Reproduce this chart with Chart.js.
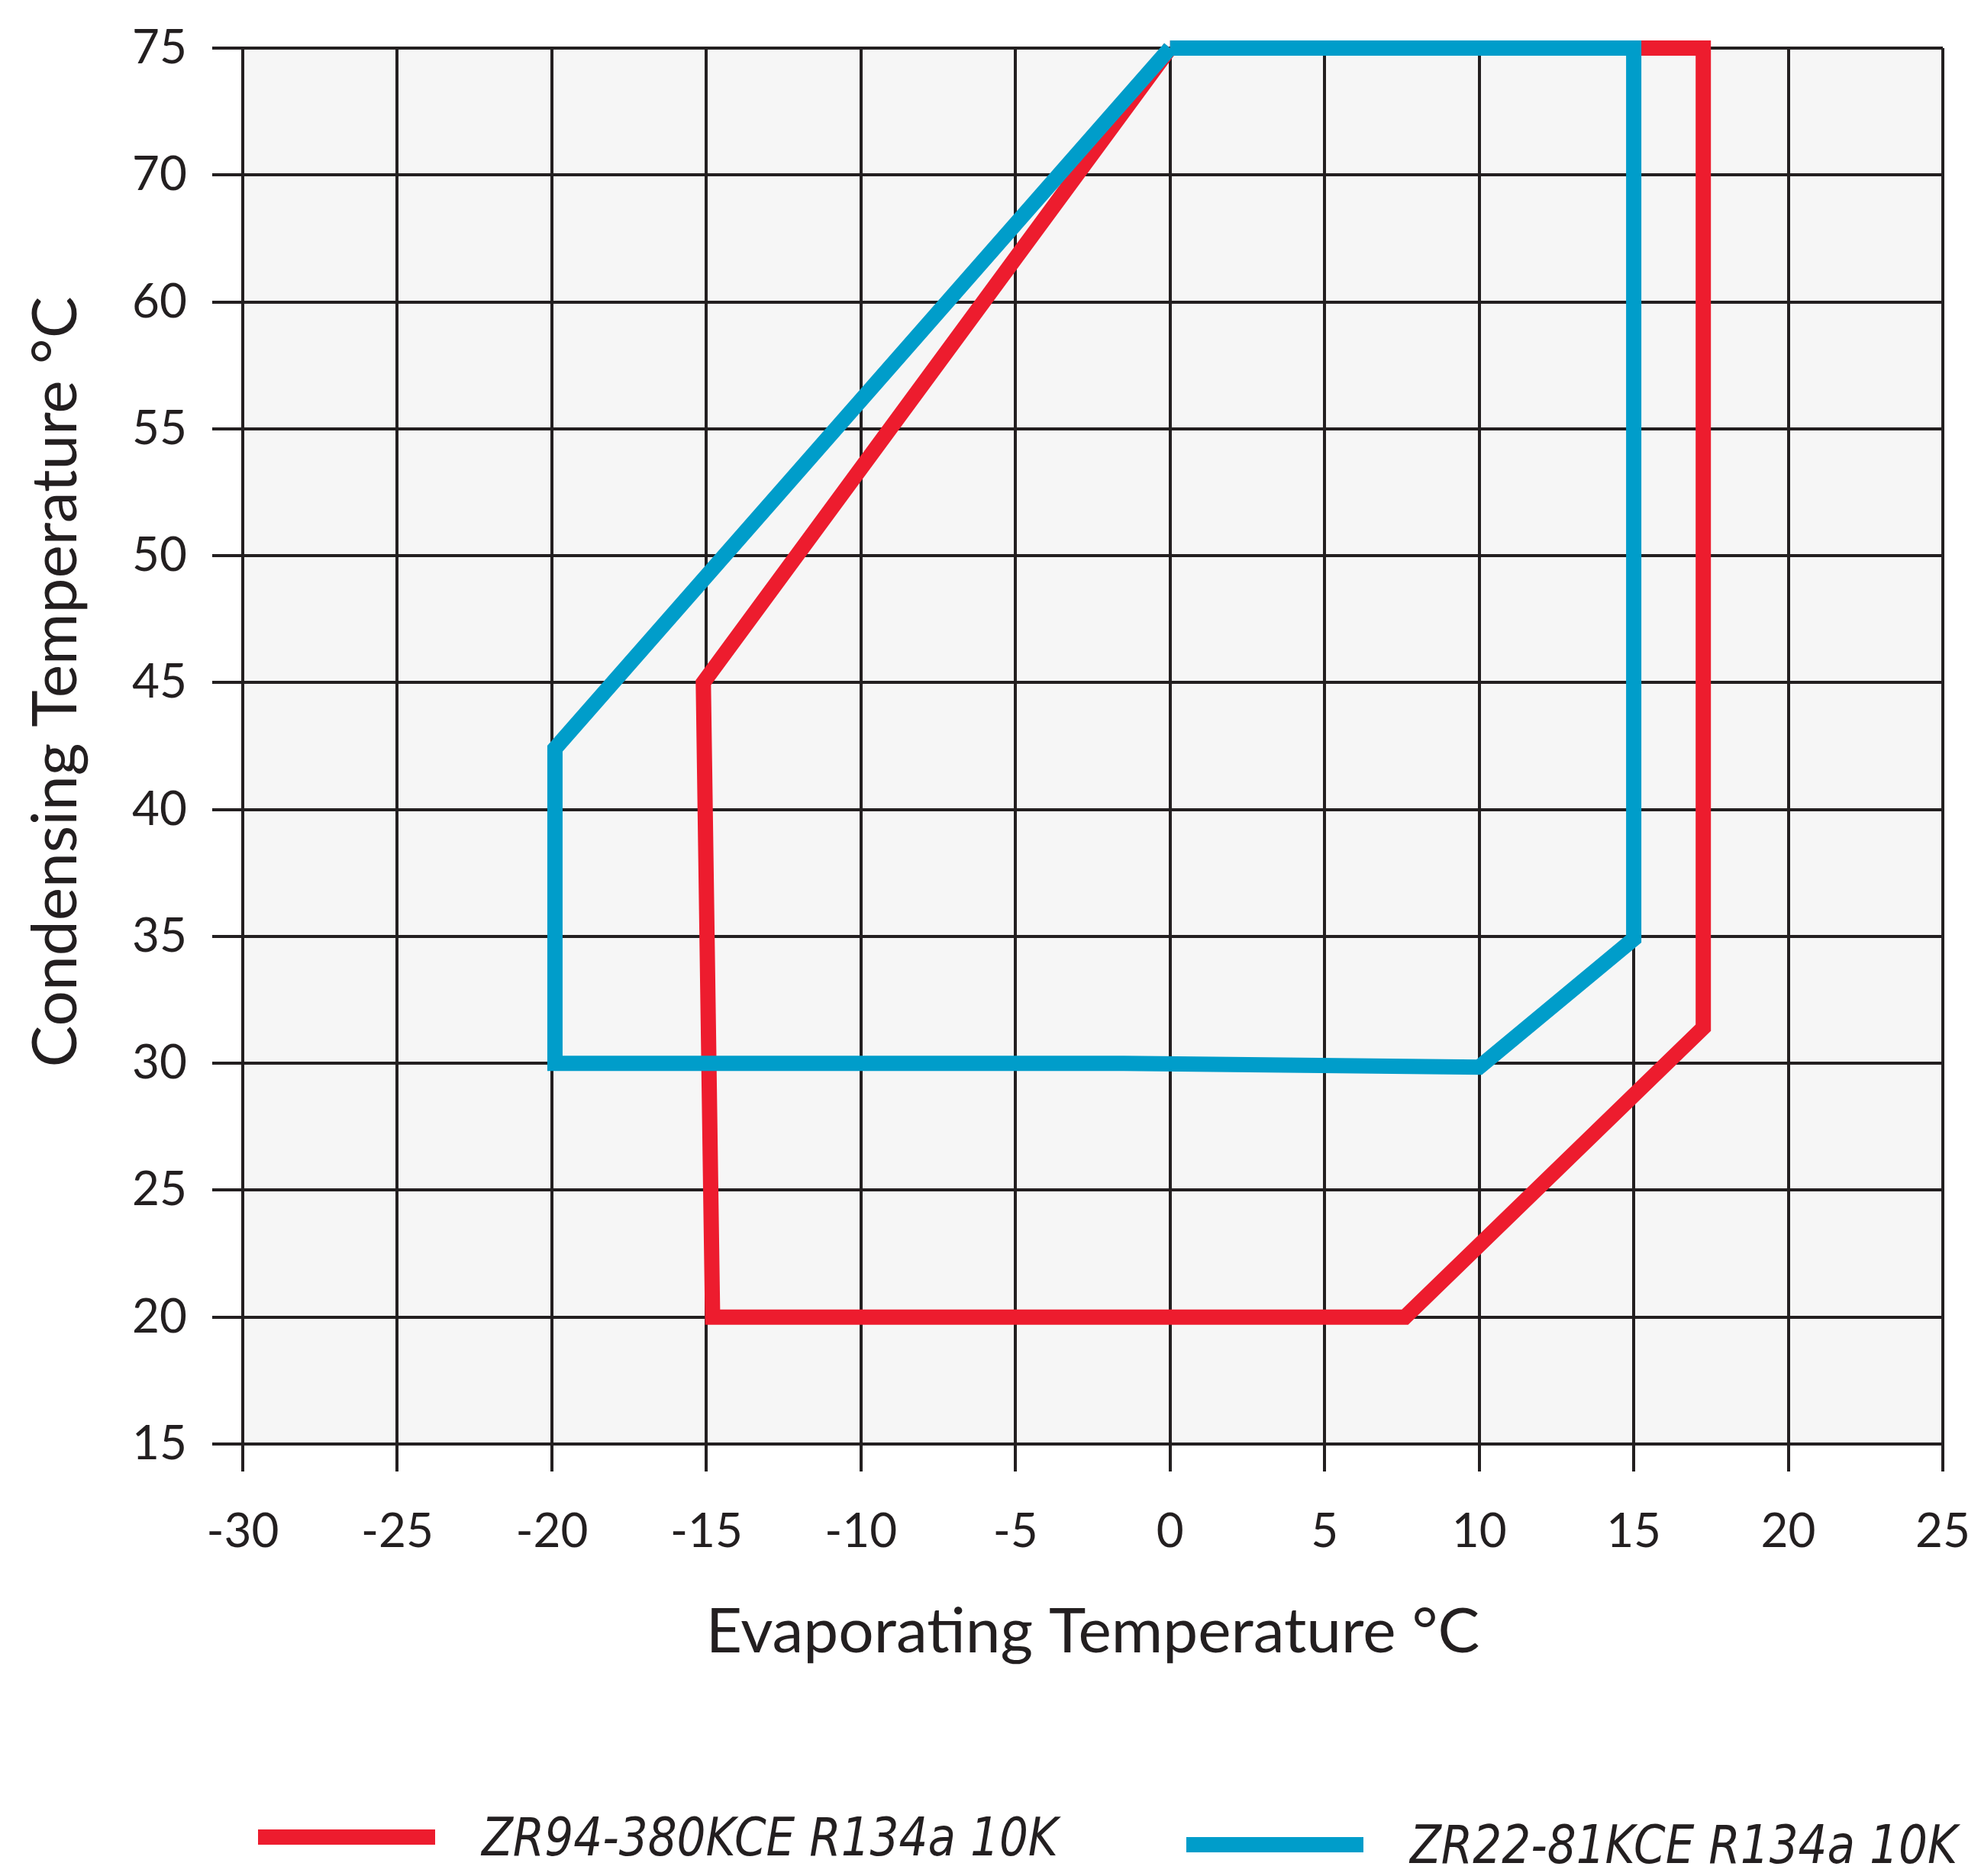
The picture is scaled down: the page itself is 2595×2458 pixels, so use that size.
<!DOCTYPE html>
<html lang="en">
<head>
    <meta charset="UTF-8">
    <title>Operating Envelope</title>
    <style>
    body{
        margin: 0;
        background-color: #fff;
        overflow: hidden;
    }
    .chartBox{
        position: relative;
        width: 2595px;
        height: 2458px;
    }
    .item{
        position: absolute;
        display: flex;
        align-items: center;
        white-space: nowrap;
        font-family: 'DejaVu Sans Condensed', 'DejaVu Sans', sans-serif;
        font-stretch: condensed;
        font-style: italic;
        font-size: 70px;
        line-height: 70px;
        color: #231f20;
    }
    .swatch{
        flex: none;
        width: 232px;
        height: 20px;
        margin-right: 61px;
    }
    .item span{
        display: inline-block;
        transform-origin: left center;
    }
    </style>
</head>
<body>

    <div class="chartBox">
        <canvas id="myChart" width="2595" height="2458"></canvas>
        <div id="legend"></div>
    </div>

    <script src="https://cdn.jsdelivr.net/npm/chart.js@4.4.0/dist/chart.umd.min.js"></script>

    <script>

        // y axis labels as printed on the chart (65 is skipped, grid is evenly spaced)
        const yTickLabels = [15, 20, 25, 30, 35, 40, 45, 50, 55, 60, 70, 75];

        // ZR94-380KCE R134a 10K
        const redEvap = [0, 17.25, 17.25, 7.6, -14.8, -15.1, 0];
        const redCond = [75, 75, 31.4, 20, 20, 45, 75];

        // ZR22-81KCE R134a 10K
        const blueEvap = [0, 15, 15, 10, -1.5, -19.9, -19.9, 0];
        const blueCond = [75, 75, 34.9, 29.85, 30, 30, 42.4, 75];

        const ink = '#231f20';

        // legend item placement (left, top) in px
        const legendPos = [[338, 2372], [1554, 2382]];

        // condensing temp -> position on the evenly spaced grid
        function toGrid(v){
            for(let i = 0; i < yTickLabels.length - 1; i++){
                const a = yTickLabels[i], b = yTickLabels[i + 1];
                if(v <= b) return i + (v - a) / (b - a);
            }
            return yTickLabels.length - 1;
        }

        function points(xs, ys){
            return xs.map((x, i) => ({x: x, y: toGrid(ys[i])}));
        }

        const plotBg = {
            id: 'plotBg',
            beforeDraw(chart){
                const {ctx, chartArea: a} = chart;
                ctx.save();
                ctx.fillStyle = '#f6f6f6';
                ctx.fillRect(a.left, a.top, a.right - a.left, a.bottom - a.top);
                ctx.restore();
            }
        };

        let data = {
            datasets: [{
                label: 'ZR94-380KCE R134a 10K',
                data: points(redEvap, redCond),
                borderColor: '#ed1c2e',
                backgroundColor: '#ed1c2e',
                order: 2
            }, {
                label: 'ZR22-81KCE R134a 10K',
                data: points(blueEvap, blueCond),
                borderColor: '#009dca',
                backgroundColor: '#009dca',
                order: 1
            }]
        };
        data.datasets.forEach(d => {
            d.showLine = true;
            d.borderWidth = 20;
            d.pointRadius = 0;
            d.pointHoverRadius = 0;
            d.pointBorderWidth = 0;
            d.borderJoinStyle = 'miter';
            d.clip = false;
            d.fill = false;
        });

        let config = {
            type: 'scatter',
            data,
            options: {
                responsive: false,
                animation: false,
                devicePixelRatio: 1,
                layout: {
                    autoPadding: false,
                    padding: {top: 63, right: 50, bottom: 266, left: 0}
                },
                plugins: {
                    legend: {display: false},
                    tooltip: {enabled: false}
                },
                scales: {
                    x: {
                        type: 'linear',
                        min: -30,
                        max: 25,
                        ticks: {
                            stepSize: 5,
                            color: ink,
                            padding: 42,
                            font: {family: 'Lato', size: 62}
                        },
                        grid: {color: ink, lineWidth: 4, tickLength: 36},
                        border: {color: ink, width: 4},
                        title: {
                            display: true,
                            text: 'Evaporating Temperature °C',
                            color: ink,
                            padding: {top: 0, bottom: 4},
                            font: {family: 'Lato', size: 82}
                        },
                        afterFit(s){
                            s.height = 300;
                            s.paddingLeft = 0;
                            s.paddingRight = 0;
                        }
                    },
                    y: {
                        type: 'linear',
                        min: 0,
                        max: yTickLabels.length - 1,
                        ticks: {
                            stepSize: 1,
                            color: ink,
                            padding: 33,
                            font: {family: 'Lato', size: 62},
                            callback: v => yTickLabels[v]
                        },
                        grid: {color: ink, lineWidth: 4, tickLength: 40},
                        border: {color: ink, width: 4},
                        title: {
                            display: true,
                            // leading spaces push the title up like in the original
                            text: '        Condensing Temperature °C',
                            color: ink,
                            padding: {top: 24, bottom: 0},
                            font: {family: 'Lato', size: 82}
                        },
                        afterFit(s){
                            s.width = 318;
                            s.paddingTop = 0;
                            s.paddingBottom = 0;
                        }
                    }
                }
            },
            plugins: [plotBg]
        };

        const myChart = new Chart(document.getElementById('myChart'), config);

        // html legend from the datasets
        const legend = document.getElementById('legend');
        const spans = [];
        myChart.data.datasets.forEach((d, i) => {
            const item = document.createElement('div');
            item.className = 'item';
            item.style.left = legendPos[i][0] + 'px';
            item.style.top = legendPos[i][1] + 'px';
            const sw = document.createElement('div');
            sw.className = 'swatch';
            sw.style.backgroundColor = d.borderColor;
            const txt = document.createElement('span');
            txt.textContent = d.label;
            item.appendChild(sw);
            item.appendChild(txt);
            legend.appendChild(item);
            spans.push(txt);
        });
        // squeeze the italic text to the narrow width of the original lettering
        const k = 755 / spans[0].getBoundingClientRect().width;
        spans.forEach(s => { s.style.transform = 'scaleX(' + Math.min(1, k) + ')'; });

    </script>
</body>
</html>
